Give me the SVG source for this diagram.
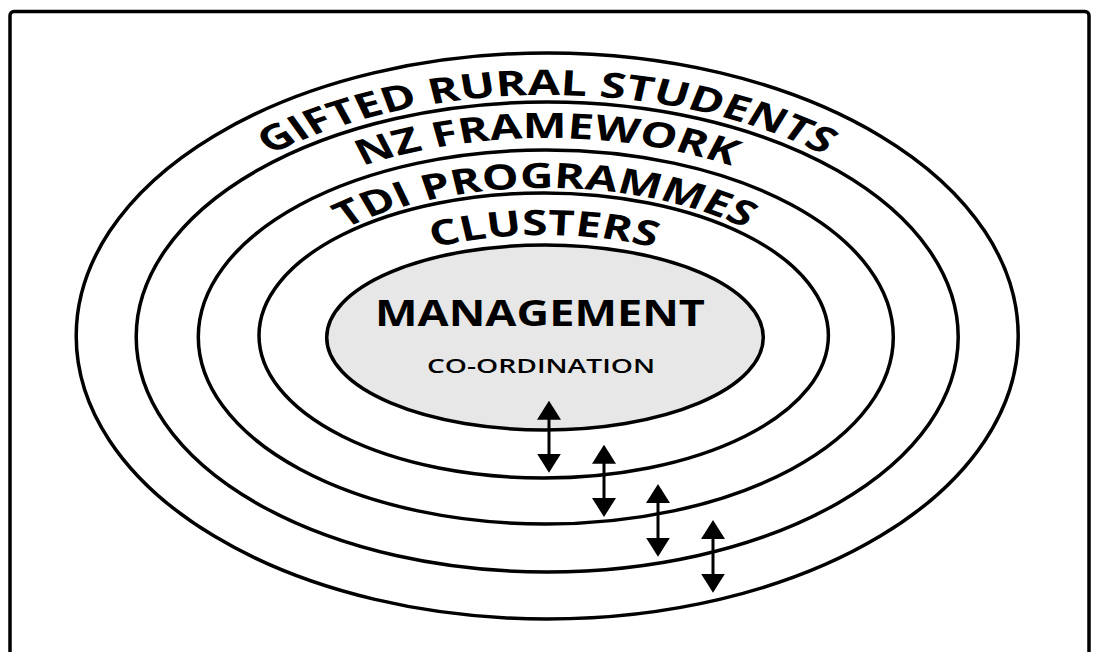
<svg xmlns="http://www.w3.org/2000/svg" width="1093" height="652" viewBox="0 0 1093 652">
  <style>
    .ring { fill: none; stroke: #000; stroke-width: 3.5; }
    .core { fill: #e7e7e7; stroke: #000; stroke-width: 3.5; }
    .arc-label { font-family: "Open Sans", "Liberation Sans", sans-serif; font-weight: 700; font-size: 35px; fill: #000; }
    .title { font-family: "Open Sans", "Liberation Sans", sans-serif; fill: #000; }
    .link { stroke: #000; stroke-width: 3; marker-start: url(#head); marker-end: url(#head); }
  </style>
  <defs>
    <marker id="head" viewBox="0 0 19 24" markerWidth="19" markerHeight="24" refX="8" refY="12" markerUnits="userSpaceOnUse" orient="auto-start-reverse">
      <path d="M0,0 L19,12 L0,24 Z" fill="#000"/>
    </marker>
    <!-- label baselines, drawn in horizontally compressed space and stretched back by each group's scale -->
    <path id="base-gifted" d="M233.6,336 A313.4,241 0 0 1 860.4,336"/>
    <path id="base-nz" d="M276.3,337 A270.7,199 0 0 1 817.7,337"/>
    <path id="base-tdi" d="M323.8,337 A221.2,149 0 0 1 766.2,337"/>
    <path id="base-clusters" d="M368.4,337 A175.6,102 0 0 1 719.6,337"/>
  </defs>

  <rect id="frame" x="10" y="11.5" width="1079" height="700" rx="4" fill="#fff" stroke="#000" stroke-width="3.5"/>

  <g id="gifted-rural-students">
    <ellipse class="ring" cx="547.2" cy="336" rx="471" ry="283"/>
    <g transform="translate(547,0) scale(1.34,1) translate(-547,0)">
      <text class="arc-label" text-anchor="middle"><textPath href="#base-gifted" startOffset="50%">GIFTED RURAL STUDENTS</textPath></text>
    </g>
  </g>

  <g id="nz-framework">
    <ellipse class="ring" cx="547.2" cy="337" rx="411" ry="235"/>
    <g transform="translate(547,0) scale(1.33,1) translate(-547,0)">
      <text class="arc-label" text-anchor="middle"><textPath href="#base-nz" startOffset="50%">NZ FRAMEWORK</textPath></text>
    </g>
  </g>

  <g id="tdi-programmes">
    <ellipse class="ring" cx="545.8" cy="337" rx="347.5" ry="187"/>
    <g transform="translate(545,0) scale(1.32,1) translate(-545,0)">
      <text class="arc-label" text-anchor="middle"><textPath href="#base-tdi" startOffset="50%">TDI PROGRAMMES</textPath></text>
    </g>
  </g>

  <g id="clusters">
    <ellipse class="ring" cx="543.7" cy="335.5" rx="284.7" ry="142.5"/>
    <g transform="translate(544,0) scale(1.31,1) translate(-544,0)">
      <text class="arc-label" text-anchor="middle"><textPath href="#base-clusters" startOffset="50%">CLUSTERS</textPath></text>
    </g>
  </g>

  <g id="management">
    <ellipse class="core" cx="545" cy="337.5" rx="218.3" ry="92.5"/>
    <text class="title" x="540" y="325.5" font-size="36" font-weight="700" text-anchor="middle" textLength="330" lengthAdjust="spacingAndGlyphs">MANAGEMENT</text>
    <text class="title" x="541" y="373" font-size="20" font-weight="600" text-anchor="middle" textLength="228" lengthAdjust="spacingAndGlyphs">CO-ORDINATION</text>
  </g>

  <g id="connectors">
    <line class="link" x1="549" y1="411.7" x2="549" y2="461.7"/>
    <line class="link" x1="604" y1="455.7" x2="604" y2="506"/>
    <line class="link" x1="658" y1="495" x2="658" y2="545.7"/>
    <line class="link" x1="713" y1="531" x2="713" y2="581.7"/>
  </g>
</svg>
